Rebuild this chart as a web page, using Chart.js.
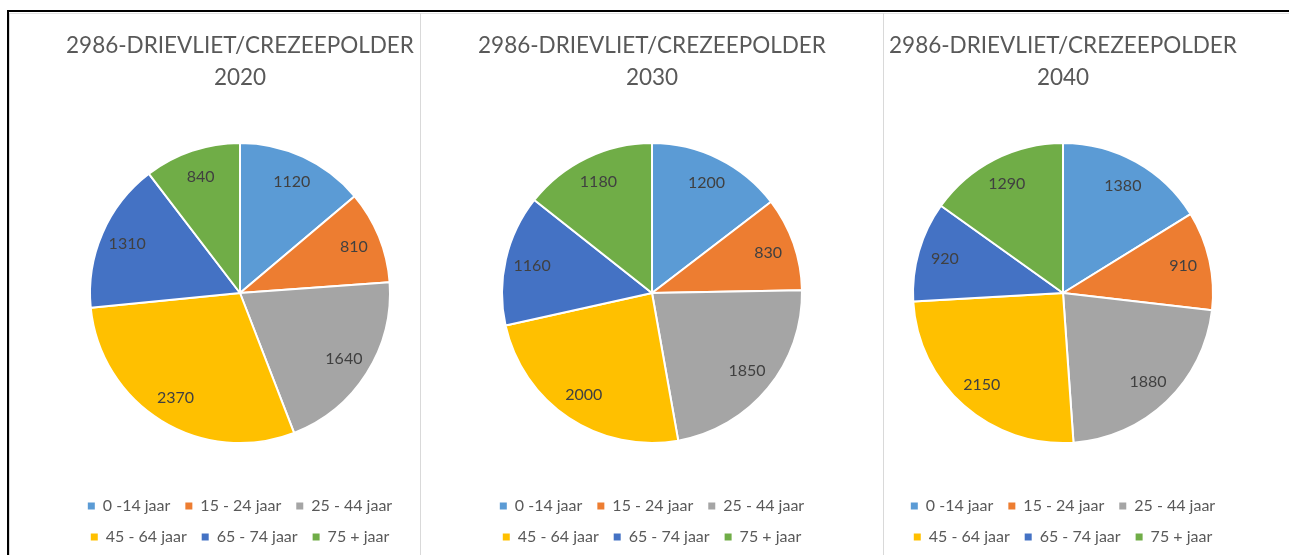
<!DOCTYPE html>
<html>
<head>
<meta charset="utf-8">
<script src="https://cdn.jsdelivr.net/npm/chart.js@4.4.0/dist/chart.umd.min.js"></script>
<style>
    body { margin: 0; background: #fff; width: 1289px; height: 555px; overflow: hidden; position: relative; }
    .frame { position: absolute; left: 7px; top: 10px; width: 1300px; height: 560px; border-top: 2px solid #000; border-left: 2px solid #000; }
    .vline { position: absolute; top: 13px; height: 545px; width: 1px; background: #d9d9d9; }
    .hline { position: absolute; top: 13px; left: 9px; width: 1290px; height: 1px; background: #e3e3e3; }
    .chart { position: absolute; top: 12px; }
</style>
</head>
<body>
<div class="frame"></div>
<div class="hline"></div>
<div class="vline" style="left:9px"></div>
<div class="vline" style="left:420px"></div>
<div class="vline" style="left:883px"></div>
<canvas class="chart" id="pie2020" width="440" height="543" style="left:20px"></canvas>
<canvas class="chart" id="pie2030" width="440" height="543" style="left:432px"></canvas>
<canvas class="chart" id="pie2040" width="440" height="543" style="left:843px"></canvas>
<script>
/*** Data ***/
const areaName = '2986-DRIEVLIET/CREZEEPOLDER';
const ageGroups = ['0 -14 jaar', '15 - 24 jaar', '25 - 44 jaar', '45 - 64 jaar', '65 - 74 jaar', '75 + jaar'];
const years = ['2020', '2030', '2040'];
const values2020 = [1120, 810, 1640, 2370, 1310, 840];
const values2030 = [1200, 830, 1850, 2000, 1160, 1180];
const values2040 = [1380, 910, 1880, 2150, 920, 1290];
const sliceColors = ['#5B9BD5', '#ED7D31', '#A5A5A5', '#FFC000', '#4472C4', '#70AD47'];

/*** Font ***/
Chart.defaults.font.family = 'Lato';
Chart.defaults.color = '#595959';

/*** Value labels inside the slices ***/
const sliceLabels = {
    id: 'sliceLabels',
    afterDatasetsDraw(chart) {
        const ctx = chart.ctx;
        const meta = chart.getDatasetMeta(0);
        ctx.save();
        ctx.font = '16px Lato';
        ctx.fillStyle = '#404040';
        ctx.textAlign = 'center';
        ctx.textBaseline = 'middle';
        meta.data.forEach(function (arc, i) {
            const p = arc.getProps(['x', 'y', 'startAngle', 'endAngle', 'outerRadius'], true);
            const mid = (p.startAngle + p.endAngle) / 2;
            const r = p.outerRadius * 0.82;
            ctx.fillText(chart.data.datasets[0].data[i], p.x + Math.cos(mid) * r, p.y + Math.sin(mid) * r);
        });
        ctx.restore();
    }
};

/*** Draw chart function ***/
function drawPie(canvasId, year, values) {
    return new Chart(document.getElementById(canvasId), {
        type: 'pie',
        data: {
            labels: ageGroups,
            datasets: [
                {
                    data: values,
                    backgroundColor: sliceColors,
                    borderColor: '#ffffff',
                    borderWidth: 2
                }
            ]
        },
        options: {
            responsive: false,
            animation: false,
            radius: 150,
            layout: {
                padding: { left: 30, right: 30, top: 0, bottom: 0 }
            },
            plugins: {
                title: {
                    display: true,
                    text: [areaName, year],
                    color: '#595959',
                    font: { size: 22.5, weight: 'normal', lineHeight: 1.4 },
                    padding: { top: 18.25, bottom: 9.75 }
                },
                legend: {
                    position: 'bottom',
                    labels: {
                        boxWidth: 7,
                        boxHeight: 7,
                        padding: 15,
                        color: '#595959',
                        font: { size: 16 },
                        generateLabels: function (chart) {
                            const items = Chart.overrides.pie.plugins.legend.labels.generateLabels(chart);
                            items.forEach(function (item) { item.lineWidth = 0; });
                            return items;
                        }
                    }
                },
                tooltip: { enabled: false }
            }
        },
        plugins: [sliceLabels]
    });
}

drawPie('pie2020', years[0], values2020);
drawPie('pie2030', years[1], values2030);
drawPie('pie2040', years[2], values2040);
</script>
</body>
</html>
